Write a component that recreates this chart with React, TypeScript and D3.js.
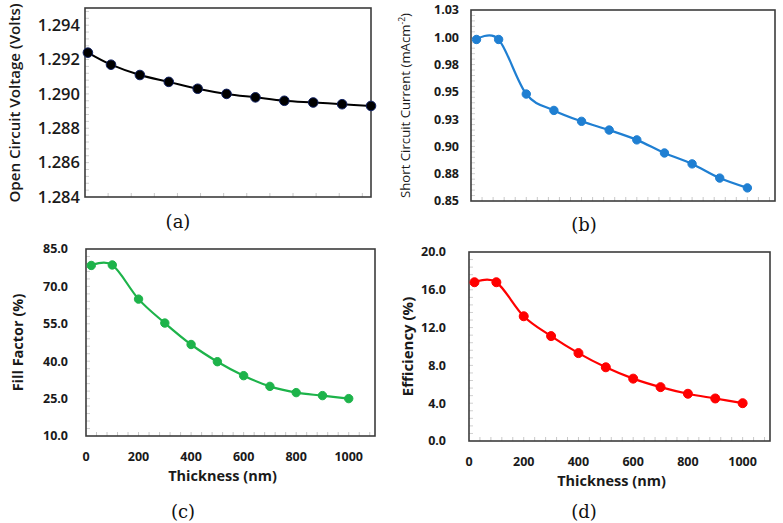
import React from "react";
import * as d3 from "d3";

// ---- data ----
const thickness = [20, 100, 200, 300, 400, 500, 600, 700, 800, 900, 1000];
const vocValues = [1.2924, 1.2917, 1.2911, 1.2907, 1.2903, 1.29, 1.2898, 1.2896, 1.2895, 1.2894, 1.2893];
const jscValues = [0.998, 0.998, 0.948, 0.933, 0.923, 0.915, 0.906, 0.894, 0.884, 0.871, 0.862];
const ffValues = [78.4, 78.6, 64.9, 55.3, 46.7, 39.8, 34.2, 29.9, 27.4, 26.2, 25.0];
const effValues = [16.8, 16.8, 13.2, 11.1, 9.3, 7.8, 6.6, 5.7, 5.0, 4.5, 4.0];

const thicknessTicks = [0, 200, 400, 600, 800, 1000];
const vocTicks = [1.284, 1.286, 1.288, 1.29, 1.292, 1.294];
const vocTickLabels = ["1.284", "1.286", "1.288", "1.290", "1.292", "1.294"];
const jscTicks = [0.85, 0.875, 0.9, 0.925, 0.95, 0.975, 1.0, 1.025];
const jscTickLabels = ["0.85", "0.88", "0.90", "0.93", "0.95", "0.98", "1.00", "1.03"];
const ffTicks = [10, 25, 40, 55, 70, 85];
const ffTickLabels = ["10.0", "25.0", "40.0", "55.0", "70.0", "85.0"];
const effTicks = [0, 4, 8, 12, 16, 20];
const effTickLabels = ["0.0", "4.0", "8.0", "12.0", "16.0", "20.0"];

const FONT = "'Open Sans', 'Noto Sans', sans-serif";

type PanelProps = {
  box: { x0: number; x1: number; y0: number; y1: number };
  xDomain: [number, number];
  yDomain: [number, number];
  values: number[];
  yTicks: number[];
  yTickLabels: string[];
  yMinorStep: number;
  xMinorStep: number;
  color: string;
  dotFill: string;
  dotStroke: string;
  r: number;
  lineWidth: number;
  tickFontSize: number;
  tickWeight: number;
  tickGap: number;
  showXAxisLabels: boolean;
  yTitle: React.ReactNode;
  yTitleX: number;
  yTitleY?: number;
  yTitleSize: number;
  yTitleWeight: number;
  panelLabel: string;
  panelLabelX: number;
  panelLabelY: number;
};

function Panel(p: PanelProps) {
  const { box } = p;
  const x = d3.scaleLinear().domain(p.xDomain).range([box.x0, box.x1]);
  const y = d3.scaleLinear().domain(p.yDomain).range([box.y1, box.y0]);
  const line = d3
    .line<number>()
    .x((_, i) => x(thickness[i]))
    .y((v) => y(v))
    .curve(d3.curveCardinal.tension(0));
  const pathD = line(p.values) || "";

  const xMinor = d3.range(p.xDomain[0], p.xDomain[1] + 1e-9, p.xMinorStep).filter((v) => v > p.xDomain[0] && v < p.xDomain[1]);
  const yMinor = d3.range(p.yDomain[0], p.yDomain[1] + 1e-9, p.yMinorStep).filter((v) => v > p.yDomain[0] + 1e-9 && v < p.yDomain[1] - 1e-9);
  const yMid = p.yTitleY ?? (box.y0 + box.y1) / 2;

  return (
    <g>
      {xMinor.map((v, i) => (
        <line key={"xm" + i} x1={x(v)} x2={x(v)} y1={box.y1} y2={box.y1 - 4} stroke="#c8c8c8" strokeWidth={1} />
      ))}
      {yMinor.map((v, i) => (
        <line key={"ym" + i} x1={box.x0} x2={box.x0 + 4} y1={y(v)} y2={y(v)} stroke="#d0d0d0" strokeWidth={1} />
      ))}
      <rect x={box.x0} y={box.y0} width={box.x1 - box.x0} height={box.y1 - box.y0} fill="none" stroke="#3c3c3c" strokeWidth={1.6} />
      <path d={pathD} fill="none" stroke={p.color} strokeWidth={p.lineWidth} />
      {p.values.map((v, i) => (
        <circle key={"c" + i} cx={x(thickness[i])} cy={y(v)} r={p.r} fill={p.dotFill} stroke={p.dotStroke} strokeWidth={1} />
      ))}
      {p.yTicks.map((t, i) => (
        <text
          key={"yt" + i}
          x={box.x0 - p.tickGap}
          y={y(t)}
          dy="0.35em"
          textAnchor="end"
          fontFamily={FONT}
          fontSize={p.tickFontSize}
          fontWeight={p.tickWeight}
          fill="#1a1a1a"
        >
          {p.yTickLabels[i]}
        </text>
      ))}
      {p.showXAxisLabels &&
        thicknessTicks.map((t, i) => (
          <text
            key={"xt" + i}
            x={x(t)}
            y={box.y1 + 21}
            dy="0.35em"
            textAnchor="middle"
            fontFamily={FONT}
            fontSize={12.5}
            fontWeight={700}
            fill="#1a1a1a"
          >
            {t}
          </text>
        ))}
      {p.showXAxisLabels && (
        <text
          x={(box.x0 + box.x1) / 2 - 8}
          y={box.y1 + 45}
          textAnchor="middle"
          fontFamily={FONT}
          fontSize={14.5}
          fontWeight={700}
          fill="#1a1a1a"
        >
          Thickness (nm)
        </text>
      )}
      <text
        transform={`translate(${p.yTitleX},${yMid}) rotate(-90)`}
        dy="0.35em"
        textAnchor="middle"
        fontFamily={FONT}
        fontSize={p.yTitleSize}
        fontWeight={p.yTitleWeight}
        fill="#1a1a1a"
      >
        {p.yTitle}
      </text>
      <text
        x={p.panelLabelX}
        y={p.panelLabelY}
        textAnchor="middle"
        fontFamily="'DejaVu Serif', 'Liberation Serif', serif"
        fontSize={18}
        fill="#111"
      >
        {p.panelLabel}
      </text>
    </g>
  );
}

export default function App() {
  return (
    <svg width={783} height={523} style={{ position: "absolute", left: 0, top: 0, background: "#fff" }}>
      <rect width={783} height={523} fill="#fff" />
      <Panel
        box={{ x0: 85, x1: 371, y0: 8, y1: 197 }}
        xDomain={[10, 1000]}
        yDomain={[1.284, 1.295]}
        values={vocValues}
        yTicks={vocTicks}
        yTickLabels={vocTickLabels}
        yMinorStep={0.0004}
        xMinorStep={80}
        color="#000"
        dotFill="#000"
        dotStroke="#102060"
        r={4.8}
        lineWidth={2}
        tickFontSize={16.5}
        tickWeight={600}
        tickGap={5}
        showXAxisLabels={false}
        yTitle="Open Circuit Voltage (Volts)"
        yTitleX={15}
        yTitleY={103}
        yTitleSize={15.1}
        yTitleWeight={600}
        panelLabel="(a)"
        panelLabelX={178}
        panelLabelY={228}
      />
      <Panel
        box={{ x0: 471, x1: 775, y0: 10, y1: 201 }}
        xDomain={[0, 1100]}
        yDomain={[0.85, 1.025]}
        values={jscValues}
        yTicks={jscTicks}
        yTickLabels={jscTickLabels}
        yMinorStep={0.005}
        xMinorStep={40}
        color="#1f7fd2"
        dotFill="#1f7fd2"
        dotStroke="#1f7fd2"
        r={4.2}
        lineWidth={2.2}
        tickFontSize={12.5}
        tickWeight={700}
        tickGap={12}
        showXAxisLabels={false}
        yTitle={
          <>
            Short Circuit Current (mAcm
            <tspan baselineShift="super" fontSize={8.5}>-2</tspan>)
          </>
        }
        yTitleX={405}
        yTitleSize={13.2}
        yTitleWeight={400}
        panelLabel="(b)"
        panelLabelX={584}
        panelLabelY={231}
      />
      <Panel
        box={{ x0: 86, x1: 375, y0: 249, y1: 436 }}
        xDomain={[0, 1100]}
        yDomain={[10, 85]}
        values={ffValues}
        yTicks={ffTicks}
        yTickLabels={ffTickLabels}
        yMinorStep={3}
        xMinorStep={40}
        color="#1db34a"
        dotFill="#1db34a"
        dotStroke="#1db34a"
        r={4.2}
        lineWidth={2.2}
        tickFontSize={12.5}
        tickWeight={700}
        tickGap={18}
        showXAxisLabels={true}
        yTitle="Fill Factor (%)"
        yTitleX={18}
        yTitleSize={14.5}
        yTitleWeight={700}
        panelLabel="(c)"
        panelLabelX={183}
        panelLabelY={518}
      />
      <Panel
        box={{ x0: 469, x1: 770, y0: 252, y1: 441 }}
        xDomain={[0, 1100]}
        yDomain={[0, 20]}
        values={effValues}
        yTicks={effTicks}
        yTickLabels={effTickLabels}
        yMinorStep={0.8}
        xMinorStep={40}
        color="#ff0000"
        dotFill="#ff0000"
        dotStroke="#ff0000"
        r={4.5}
        lineWidth={2.2}
        tickFontSize={12.5}
        tickWeight={700}
        tickGap={23}
        showXAxisLabels={true}
        yTitle="Efficiency (%)"
        yTitleX={408}
        yTitleSize={15}
        yTitleWeight={700}
        panelLabel="(d)"
        panelLabelX={584}
        panelLabelY={518}
      />
    </svg>
  );
}
